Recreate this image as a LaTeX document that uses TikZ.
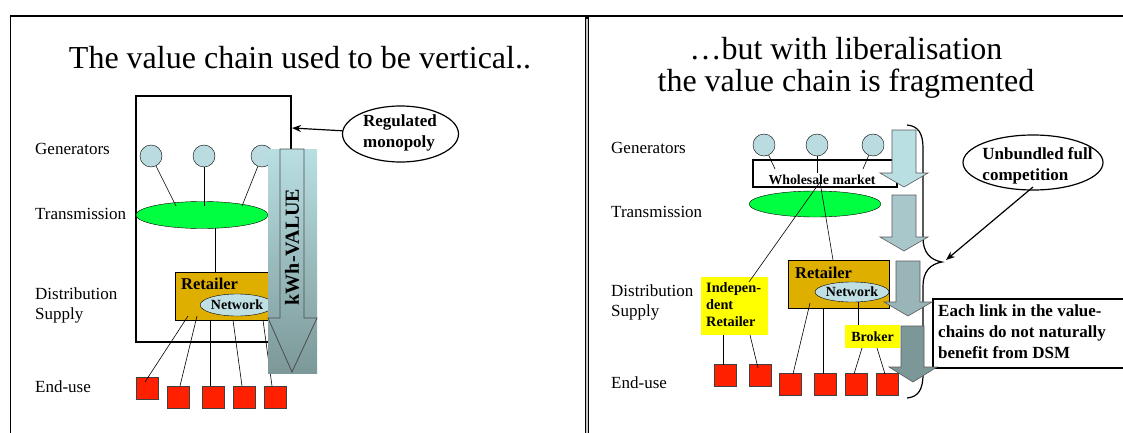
\documentclass[tikz,border=0pt]{standalone}
\usepackage{fontspec}
\setmainfont{Liberation Serif}
\usetikzlibrary{shapes.geometric,arrows.meta}
\definecolor{genblue}{HTML}{BADCE0}
\definecolor{tgreen}{HTML}{00FF40}
\definecolor{retgold}{HTML}{DFAF00}
\definecolor{netblue}{HTML}{BFDFE3}
\definecolor{endred}{HTML}{FF2000}
\definecolor{ayel}{HTML}{FFFF00}
\definecolor{aone}{HTML}{BADFE3}
\definecolor{atwo}{HTML}{A7C7CA}
\definecolor{athree}{HTML}{99B5B7}
\definecolor{afour}{HTML}{7B9797}
\definecolor{ktop}{HTML}{B9DFE3}
\definecolor{kbot}{HTML}{7C9898}
\newcommand\fsz[2]{\fontsize{#1}{#2}\selectfont}
\begin{document}
\begin{tikzpicture}[x=1pt,y=-1pt,
  lbl/.style={font=\fsz{17}{20}, anchor=west, inner sep=0, align=left},
  gen/.style={circle, draw, fill=genblue, minimum size=22, inner sep=0},
  trans/.style={ellipse, draw, fill=tgreen, inner sep=0},
  rbox/.style={draw, fill=retgold, inner sep=0},
  net/.style={ellipse, draw, fill=netblue, inner sep=0, font=\bfseries\fsz{14}{16}},
  enduse/.style={draw=black!75, fill=endred, minimum size=22, inner sep=0},
  ybox/.style={fill=ayel, inner sep=0},
  blk/.style={draw=black!65, line width=0.6pt},
  link/.style={line width=0.6pt},
  boldtxt/.style={inner sep=0, font=\bfseries\fsz{17}{21}, align=left}
]
\useasboundingbox (0,0) rectangle (1123,433);

% frame
\draw[line width=1.5pt] (10.5,433) -- (10.5,16) -- (1123,16);
\draw[line width=4pt] (587,16) -- (587,433);
\draw[line width=1.3pt, gray!45] (587,19) -- (587,433);

% titles
\node[font=\fsz{32}{36}, anchor=base, inner sep=0] (title1) at (300,69) {The value chain used to be vertical..};
\node[font=\fsz{32}{36}, anchor=base, inner sep=0] (title2a) at (846,60) {…but with liberalisation};
\node[font=\fsz{32}{36}, anchor=base, inner sep=0] (title2b) at (846,92) {the value chain is fragmented};

% ---------------- left panel ----------------
\node[lbl] (lg1) at (35,149) {Generators};
\node[lbl] (lt1) at (35,214) {Transmission};
\node[lbl] (ld1) at (35,305) {Distribution\\Supply};
\node[lbl] (le1) at (35,387) {End-use};

\node[draw, line width=2pt, minimum width=155, minimum height=246, inner sep=0] (vbox) at (213.2,218.7) {};

\node[gen] (g1) at (151,156) {};
\node[gen] (g2) at (204,156) {};
\node[gen] (g3) at (262,156) {};

\node[trans, minimum width=132, minimum height=27] (tr1) at (202,215) {};
\coordinate (tr1a) at (176,206);
\coordinate (tr1b) at (204,206);
\coordinate (tr1c) at (242,206);
\draw[link] (g1) -- (tr1a);
\draw[link] (g2) -- (tr1b);
\draw[link] (g3) -- (tr1c);

\node[rbox, minimum width=100, minimum height=48] (ret1) at (225,296) {};
\node[inner sep=0, anchor=west, font=\bfseries\fsz{16.5}{18}] (ret1t) at (181,284) {Retailer};
\node[net, minimum width=70, minimum height=22] (net1) at (237,305) {Network};
\coordinate (tr1s) at (215,228);
\coordinate (ret1n) at (215,272);
\draw[link] (tr1s) -- (ret1n);

\node[enduse] (e1) at (147,388) {};
\node[enduse] (e2) at (178,397) {};
\node[enduse] (e3) at (213,397) {};
\node[enduse] (e4) at (244,397) {};
\node[enduse] (e5) at (275,397) {};
\coordinate (r1a) at (188,316);
\coordinate (r1b) at (197,316);
\coordinate (r1c) at (210,320);
\coordinate (r1d) at (233,320);
\coordinate (r1e) at (263,320);
\coordinate (e1a) at (145,382);
\coordinate (e2a) at (180,386);
\coordinate (e3a) at (210,386);
\coordinate (e4a) at (242,386);
\coordinate (e5a) at (272,386);
\draw[link] (r1a) -- (e1a);
\draw[link] (r1b) -- (e2a);
\draw[link] (r1c) -- (e3a);
\draw[link] (r1d) -- (e4a);
\draw[link] (r1e) -- (e5a);

% kWh arrow
\shade[top color=ktop, bottom color=kbot] (268,149) rectangle (317,373);
\draw[line width=0.8pt, draw=black!70] (280,149) -- (304,149) -- (304,318) -- (317,318) -- (292,372) -- (268,318) -- (280,318) -- cycle;
\node[rotate=90, inner sep=0, font=\bfseries\fsz{20}{22}] (kwh) at (292,247) {kWh-VALUE};

% regulated monopoly
\node[ellipse, draw, line width=1.2pt, minimum width=116, minimum height=56, inner sep=0] (rm) at (400.5,134) {};
\node[boldtxt] (rmt) at (400,133) {Regulated\\monopoly};
\coordinate (vboxr) at (292,128);
\draw[line width=1.2pt, -{Stealth[length=9pt,width=7pt]}] (rm) -- (vboxr);

% ---------------- right panel ----------------
\node[lbl] (lg2) at (611,148) {Generators};
\node[lbl] (lt2) at (611,212) {Transmission};
\node[lbl] (ld2) at (611,302) {Distribution\\Supply};
\node[lbl] (le2) at (611,383) {End-use};

% brace
\draw[line width=1.2pt] (907,125) .. controls (918,126) and (923,133) .. (923,148) -- (923,238)
  .. controls (923,252) and (930,260) .. (942,262)
  .. controls (930,264) and (923,272) .. (923,286) -- (923,374)
  .. controls (923,390) and (918,397) .. (907,398);

\node[gen] (g4) at (764,145) {};
\node[gen] (g5) at (817,145) {};
\node[gen] (g6) at (873,145) {};

\node[draw, line width=1.5pt, minimum width=144, minimum height=27, inner sep=0] (wm) at (825,173.5) {};
\node[inner sep=0, font=\bfseries\fsz{13.8}{15}] (wmt) at (822,180) {Wholesale market};
\coordinate (wma) at (775,169);
\coordinate (wmb) at (817,173);
\coordinate (wmc) at (863,169);
\draw[link] (g4) -- (wma);
\draw[link] (g5) -- (wmb);
\draw[link] (g6) -- (wmc);

\node[trans, minimum width=132, minimum height=26] (tr2) at (815,204) {};

\node[ybox, minimum width=67, minimum height=58] (ind) at (734.5,306) {};
\node[inner sep=0, anchor=west, align=left, font=\bfseries\fsz{14.3}{17}] (indt) at (706,305) {Indepen-\\dent\\Retailer};

\node[rbox, minimum width=101, minimum height=48] (ret2) at (838.5,284) {};
\node[inner sep=0, anchor=west, font=\bfseries\fsz{16.5}{18}] (ret2t) at (795,273) {Retailer};
\node[net, minimum width=74, minimum height=20] (net2) at (852,292) {Network};

\node[ybox, minimum width=55, minimum height=23, font=\bfseries\fsz{14}{16}] (brk) at (872.5,336.5) {Broker};

\coordinate (wmp) at (820,182);
\coordinate (indn) at (749,282);
\coordinate (ret2n) at (833,260);
\draw[link] (wmp) -- (indn);
\draw[link] (wmp) -- (ret2n);
\coordinate (net2s) at (858,302);
\coordinate (brkn) at (858,325);
\draw[link] (net2s) -- (brkn);

\node[enduse] (f1) at (725.5,375) {};
\node[enduse] (f2) at (760.5,375) {};
\node[enduse] (f3) at (790.5,384) {};
\node[enduse] (f4) at (825.5,384) {};
\node[enduse] (f5) at (856.5,384) {};
\node[enduse] (f6) at (887.5,384) {};
\coordinate (ia) at (723,335);
\coordinate (ib) at (750,335);
\coordinate (ra) at (810,303);
\coordinate (rb) at (823,308);
\coordinate (ba) at (862,348);
\coordinate (bb) at (877,348);
\coordinate (f1a) at (723,365);
\coordinate (f2a) at (758,368);
\coordinate (f3a) at (793,374);
\coordinate (f4a) at (823,374);
\coordinate (f5a) at (854,374);
\coordinate (f6a) at (885,374);
\draw[link] (ia) -- (f1a);
\draw[link] (ib) -- (f2a);
\draw[link] (ra) -- (f3a);
\draw[link] (rb) -- (f4a);
\draw[link] (ba) -- (f5a);
\draw[link] (bb) -- (f6a);

% DSM box
\fill[white] (933,299) rectangle (1123,368);
\draw[line width=1.2pt] (1123,299) -- (933,299) -- (933,368) -- (1123,368);
\node[boldtxt, anchor=north west] (dsm) at (938,305) {Each link in the value-\\chains do not naturally\\benefit from DSM};

% block arrows
\filldraw[blk, fill=aone] (892,130) -- (916,130) -- (916,173) -- (928,173) -- (904,187) -- (880,173) -- (892,173) -- cycle;
\filldraw[blk, fill=atwo] (892,195) -- (916,195) -- (916,237) -- (928,237) -- (904,251) -- (880,237) -- (892,237) -- cycle;
\filldraw[blk, fill=athree] (896,261) -- (920,261) -- (920,302) -- (932,302) -- (908,316) -- (884,302) -- (896,302) -- cycle;
\filldraw[blk, fill=afour] (901,326) -- (924,326) -- (924,367) -- (937,367) -- (913,382) -- (889,367) -- (901,367) -- cycle;

% unbundled
\node[ellipse, draw, line width=1.2pt, minimum width=140, minimum height=55, inner sep=0] (ub) at (1033,162.5) {};
\node[boldtxt] (ubt) at (1037.5,166) {Unbundled full\\competition};
\coordinate (ubs) at (1033,187);
\coordinate (cusp) at (946,260);
\draw[line width=1.2pt, -{Stealth[length=9pt,width=7pt]}] (ubs) -- (cusp);
\end{tikzpicture}
\end{document}
